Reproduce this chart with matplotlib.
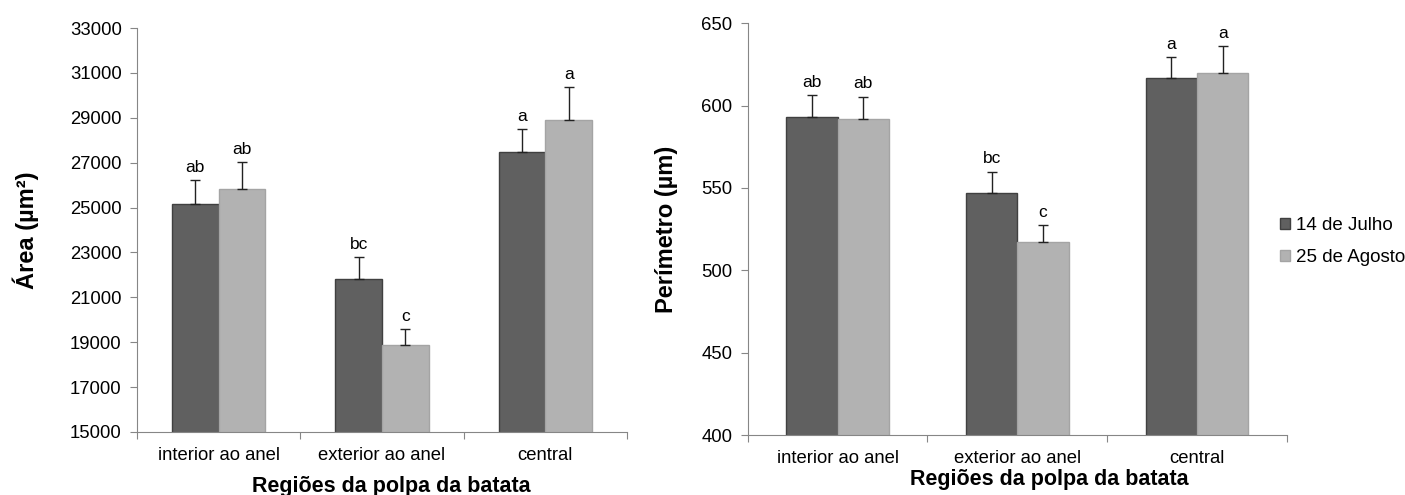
import matplotlib
matplotlib.use("Agg")
import matplotlib.pyplot as plt
import numpy as np

plt.rcParams['font.family'] = ['Liberation Sans', 'DejaVu Sans']

regions = ["interior ao anel", "exterior ao anel", "central"]
series = ["14 de Julho", "25 de Agosto"]

area_jul = [25170, 21800, 27460]
area_jul_err = [1050, 980, 1020]
area_ago = [25840, 18860, 28900]
area_ago_err = [1170, 710, 1450]
area_letters_jul = ["ab", "bc", "a"]
area_letters_ago = ["ab", "c", "a"]

perim_jul = [593.2, 546.8, 617.0]
perim_jul_err = [13.0, 13.0, 12.5]
perim_ago = [592.0, 517.0, 620.0]
perim_ago_err = [13.5, 10.4, 16.0]
perim_letters_jul = ["ab", "bc", "a"]
perim_letters_ago = ["ab", "c", "a"]

dark = "#606060"
light = "#b2b2b2"
axis_grey = "#868686"


def draw_panel(ax, v1, e1, l1, v2, e2, l2, ylim, yticks, ylabel):
    x = np.arange(len(regions))
    w = 0.285
    for off, vals, errs, lets, col, edge, lab in [
            (-w / 2, v1, e1, l1, dark, "#404040", series[0]),
            (w / 2, v2, e2, l2, light, "#a4a4a4", series[1])]:
        ax.bar(x + off, vals, w, color=col, edgecolor=edge, linewidth=1.0,
               label=lab, zorder=2)
        ax.errorbar(x + off, vals, yerr=[np.zeros(len(errs)), errs], fmt="none",
                    ecolor="#222222", elinewidth=1.0, capsize=3.5, capthick=1.0,
                    zorder=3)
        for xi, v, e, t in zip(x + off, vals, errs, lets):
            ax.annotate(t, (xi, v + e), xytext=(0, 4), textcoords="offset points",
                        ha="center", va="bottom", fontsize=12.5)
    ax.set_xlim(-0.5, len(regions) - 0.5)
    ax.set_ylim(*ylim)
    ax.set_yticks(yticks)
    ax.set_yticklabels([str(t) for t in yticks], fontsize=13.3)
    ax.set_xticks(np.arange(-0.5, len(regions), 1.0))
    ax.set_xticklabels([])
    ax.set_xticks(x, minor=True)
    ax.set_xticklabels(regions, minor=True, fontsize=13.3)
    ax.tick_params(axis="x", which="minor", length=0, pad=11)
    ax.tick_params(axis="x", which="major", length=5, color=axis_grey)
    ax.tick_params(axis="y", length=5, color=axis_grey, pad=6)
    for s in ["top", "right"]:
        ax.spines[s].set_visible(False)
    for s in ["left", "bottom"]:
        ax.spines[s].set_color(axis_grey)
    ax.set_ylabel(ylabel, fontsize=17, fontweight="bold")
    ax.set_xlabel("Regiões da polpa da batata", fontsize=15.5, fontweight="bold")


fig = plt.figure(figsize=(14.05, 4.95), dpi=100)
ax1 = fig.add_axes([0.0975, 0.1273, 0.3488, 0.8161])
ax2 = fig.add_axes([0.5322, 0.1212, 0.3838, 0.8317])

draw_panel(ax1, area_jul, area_jul_err, area_letters_jul,
           area_ago, area_ago_err, area_letters_ago,
           (15000, 33000), list(range(15000, 33001, 2000)), "Área (µm²)")
draw_panel(ax2, perim_jul, perim_jul_err, perim_letters_jul,
           perim_ago, perim_ago_err, perim_letters_ago,
           (400, 650), list(range(400, 651, 50)), "Perímetro (µm)")

ax1.yaxis.set_label_coords(-0.2, 0.5)
ax2.yaxis.set_label_coords(-0.129, 0.5)
ax1.xaxis.set_label_coords(0.519, -0.108)
ax2.xaxis.set_label_coords(0.559, -0.083)

ax2.legend(loc="center left", bbox_to_anchor=(0.956, 0.469), frameon=False,
           fontsize=13.5, handlelength=0.55, handleheight=0.55, handletextpad=0.3,
           labelspacing=0.8)

fig.savefig("out.png", dpi=100)
